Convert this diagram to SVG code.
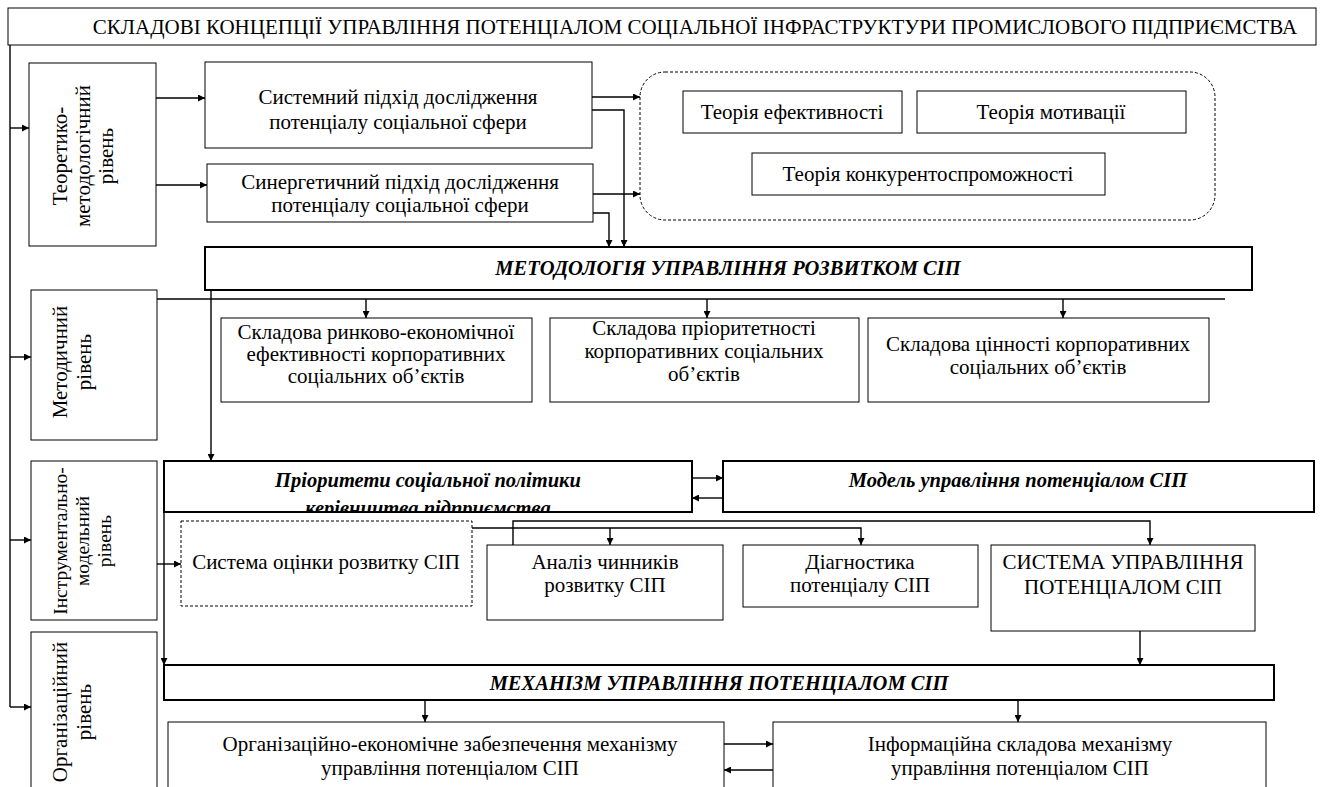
<svg xmlns="http://www.w3.org/2000/svg" width="1323" height="787" viewBox="0 0 1323 787">
  <style>
    .box { fill: #fff; stroke: #000; stroke-width: 1; }
    .thick { stroke-width: 2; }
    .dash { stroke-dasharray: 3 2; }
    .t { font-family: "Liberation Serif", "Times New Roman", serif; font-size: 21px; text-anchor: middle; fill: #000; }
    .rot { font-size: 21px; }
    .rot-s { font-size: 19.5px; }
    .bi { font-weight: bold; font-style: italic; font-size: 20.5px; }
    .ln { fill: none; stroke: #000; stroke-width: 1.4; }
    .arr { marker-end: url(#ah); }
  </style>
  <defs>
    <marker id="ah" viewBox="0 0 10 10" refX="10" refY="5" markerWidth="8" markerHeight="7" markerUnits="userSpaceOnUse" orient="auto">
      <path d="M0,0 L10,5 L0,10 Z" fill="#000"/>
    </marker>
    <clipPath id="clip-policy">
      <rect x="164" y="461" width="528" height="50"/>
    </clipPath>
  </defs>
  <rect width="1323" height="787" fill="#fff"/>

  <!-- heading -->
  <g id="title">
    <rect class="box" x="8" y="8" width="1308" height="37"/>
    <text class="t" x="695" y="34">СКЛАДОВІ КОНЦЕПЦІЇ УПРАВЛІННЯ ПОТЕНЦІАЛОМ СОЦІАЛЬНОЇ ІНФРАСТРУКТУРИ ПРОМИСЛОВОГО ПІДПРИЄМСТВА</text>
  </g>

  <!-- level column -->
  <g id="level-theory">
    <rect class="box" x="29" y="63" width="127" height="183"/>
    <text class="t rot" transform="translate(67,156) rotate(-90)">Теоретико-</text>
    <text class="t rot" transform="translate(90,156) rotate(-90)">методологічний</text>
    <text class="t rot" transform="translate(113,156) rotate(-90)">рівень</text>
  </g>
  <g id="level-method">
    <rect class="box" x="31" y="290" width="126" height="150"/>
    <text class="t rot" transform="translate(67,362) rotate(-90)">Методичний</text>
    <text class="t rot" transform="translate(91,362) rotate(-90)">рівень</text>
  </g>
  <g id="level-instrument">
    <rect class="box" x="31" y="461" width="126" height="159"/>
    <text class="t rot-s" transform="translate(67,541) rotate(-90)">Інструментально-</text>
    <text class="t rot-s" transform="translate(89,541) rotate(-90)">модельний</text>
    <text class="t rot-s" transform="translate(111,541) rotate(-90)">рівень</text>
  </g>
  <g id="level-org">
    <rect class="box" x="31" y="632" width="126" height="170"/>
    <text class="t rot" transform="translate(67,712) rotate(-90)">Організаційний</text>
    <text class="t rot" transform="translate(91,712) rotate(-90)">рівень</text>
  </g>

  <!-- theoretical approaches -->
  <g id="system-approach">
    <rect class="box" x="205" y="62" width="387" height="86"/>
    <text class="t" x="398" y="104">Системний підхід дослідження</text>
    <text class="t" x="398" y="129">потенціалу соціальної сфери</text>
  </g>
  <g id="synergy-approach">
    <rect class="box" x="207" y="164" width="386" height="58"/>
    <text class="t" x="400" y="189">Синергетичний підхід дослідження</text>
    <text class="t" x="400" y="212">потенціалу соціальної сфери</text>
  </g>
  <g id="theories">
    <rect class="box dash" x="640" y="72" width="575" height="148" rx="25" ry="25"/>
    <rect class="box" x="683" y="91" width="219" height="42"/>
    <text class="t" x="792" y="119">Теорія ефективності</text>
    <rect class="box" x="917" y="91" width="269" height="42"/>
    <text class="t" x="1051" y="119">Теорія мотивації</text>
    <rect class="box" x="752" y="153" width="353" height="42"/>
    <text class="t" x="928" y="181">Теорія конкурентоспроможності</text>
  </g>

  <!-- methodology -->
  <g id="methodology">
    <rect class="box thick" x="205" y="247" width="1047" height="43"/>
    <text class="t bi" x="728" y="275">МЕТОДОЛОГІЯ УПРАВЛІННЯ РОЗВИТКОМ СІП</text>
  </g>
  <g id="market-component">
    <rect class="box" x="221" y="318" width="311" height="84"/>
    <text class="t" x="376" y="339">Складова ринково-економічної</text>
    <text class="t" x="376" y="361">ефективності корпоративних</text>
    <text class="t" x="376" y="383">соціальних об’єктів</text>
  </g>
  <g id="priority-component">
    <rect class="box" x="550" y="318" width="309" height="84"/>
    <text class="t" x="704" y="335">Складова пріоритетності</text>
    <text class="t" x="704" y="358">корпоративних соціальних</text>
    <text class="t" x="704" y="381">об’єктів</text>
  </g>
  <g id="value-component">
    <rect class="box" x="868" y="318" width="341" height="84"/>
    <text class="t" x="1038" y="351">Складова цінності корпоративних</text>
    <text class="t" x="1038" y="374">соціальних об’єктів</text>
  </g>

  <!-- instrumental-model level -->
  <g id="policy-priorities">
    <rect class="box thick" x="164" y="461" width="528" height="51"/>
    <g clip-path="url(#clip-policy)">
      <text class="t bi" x="428" y="487">Пріоритети соціальної політики</text>
      <text class="t bi" x="428" y="515">керівництва підприємства</text>
    </g>
  </g>
  <g id="model">
    <rect class="box thick" x="723" y="461" width="591" height="51"/>
    <text class="t bi" x="1018" y="487">Модель управління потенціалом СІП</text>
  </g>
  <g id="assessment">
    <rect class="box dash" x="181" y="521" width="291" height="85"/>
    <text class="t" x="326" y="569">Система оцінки розвитку СІП</text>
  </g>
  <g id="factors">
    <rect class="box" x="487" y="545" width="236" height="75"/>
    <text class="t" x="605" y="569">Аналіз чинників</text>
    <text class="t" x="605" y="592">розвитку СІП</text>
  </g>
  <g id="diagnostics">
    <rect class="box" x="743" y="545" width="235" height="62"/>
    <text class="t" x="860" y="569">Діагностика</text>
    <text class="t" x="860" y="592">потенціалу СІП</text>
  </g>
  <g id="control-system">
    <rect class="box" x="991" y="545" width="264" height="86"/>
    <text class="t" x="1123" y="569">СИСТЕМА УПРАВЛІННЯ</text>
    <text class="t" x="1123" y="594">ПОТЕНЦІАЛОМ СІП</text>
  </g>

  <!-- organisational level -->
  <g id="mechanism">
    <rect class="box thick" x="164" y="665" width="1110" height="35"/>
    <text class="t bi" x="719" y="690">МЕХАНІЗМ УПРАВЛІННЯ ПОТЕНЦІАЛОМ СІП</text>
  </g>
  <g id="org-economic">
    <rect class="box" x="168" y="722" width="556" height="80"/>
    <text class="t" x="450" y="751">Організаційно-економічне забезпечення механізму</text>
    <text class="t" x="450" y="775">управління потенціалом СІП</text>
  </g>
  <g id="information">
    <rect class="box" x="773" y="722" width="493" height="80"/>
    <text class="t" x="1020" y="751">Інформаційна складова механізму</text>
    <text class="t" x="1020" y="775">управління потенціалом СІП</text>
  </g>

  <!-- connectors -->
  <g id="connectors">
    <polyline class="ln" points="10,45 10,707"/>
    <line class="ln arr" x1="10" y1="128" x2="29" y2="128"/>
    <line class="ln arr" x1="10" y1="357" x2="31" y2="357"/>
    <line class="ln arr" x1="10" y1="540" x2="31" y2="540"/>
    <line class="ln arr" x1="10" y1="707" x2="31" y2="707"/>

    <line class="ln arr" x1="156" y1="98" x2="205" y2="98"/>
    <line class="ln arr" x1="156" y1="185" x2="207" y2="185"/>
    <line class="ln arr" x1="592" y1="97" x2="640" y2="97"/>
    <line class="ln arr" x1="593" y1="194" x2="640" y2="194"/>
    <polyline class="ln arr" points="592,110 624,110 624,247"/>
    <polyline class="ln arr" points="593,213 609,213 609,247"/>

    <line class="ln" x1="157" y1="299" x2="1225" y2="299"/>
    <line class="ln arr" x1="366" y1="299" x2="366" y2="318"/>
    <line class="ln arr" x1="707" y1="299" x2="707" y2="318"/>
    <line class="ln arr" x1="1063" y1="299" x2="1063" y2="318"/>
    <line class="ln arr" x1="211" y1="290" x2="211" y2="461"/>

    <line class="ln arr" x1="692" y1="478" x2="723" y2="478"/>
    <line class="ln arr" x1="723" y1="498" x2="692" y2="498"/>
    <line class="ln arr" x1="157" y1="564" x2="181" y2="564"/>
    <line class="ln arr" x1="164" y1="512" x2="164" y2="665"/>

    <polyline class="ln arr" points="513,545 513,521 1150,521 1150,545" stroke="#333" stroke-width="1.8"/>
    <polyline class="ln arr" points="472,528 861,528 861,545"/>
    <line class="ln arr" x1="610" y1="528" x2="610" y2="545"/>
    <line class="ln arr" x1="1140" y1="631" x2="1140" y2="665"/>

    <line class="ln arr" x1="425" y1="700" x2="425" y2="722"/>
    <line class="ln arr" x1="1018" y1="700" x2="1018" y2="722"/>
    <line class="ln arr" x1="724" y1="744" x2="773" y2="744"/>
    <line class="ln arr" x1="773" y1="770" x2="724" y2="770"/>
  </g>
</svg>
